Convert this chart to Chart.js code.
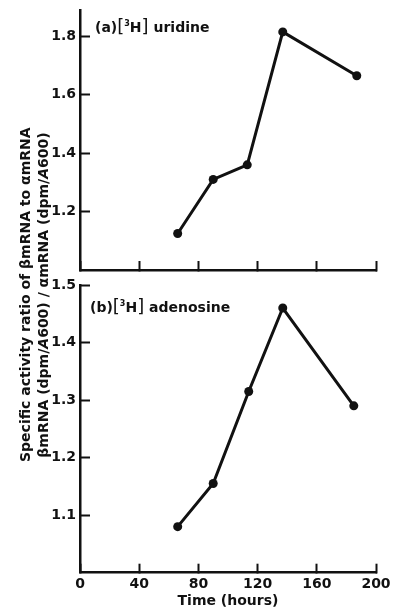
<!DOCTYPE html>
<html>
<head>
<meta charset="utf-8">
<script src="https://cdn.jsdelivr.net/npm/chart.js@4.4.1/dist/chart.umd.min.js"></script>
<style>
  body { margin: 0; background: #fff; width: 394px; height: 610px; position: relative; overflow: hidden;
         font-family: "DejaVu Sans", "Liberation Sans", sans-serif; font-weight: bold; color: #111; }
  canvas { position: absolute; left: 0; }
  #topChart { top: 0; }
  #bottomChart { top: 275px; }
  .panel { position: absolute; font-size: 14px; line-height: 18px; white-space: nowrap; }
  .panel .br { font-size: 18px; font-weight: normal; }
  .panel sup { font-size: 8px; }
  #ytitle { position: absolute; left: -133px; top: 277px; width: 334px; height: 36px;
            transform: rotate(-90deg); text-align: center; font-size: 14px; line-height: 18px;
            white-space: nowrap; }
</style>
</head>
<body>
<canvas id="topChart" width="394" height="280"></canvas>
<canvas id="bottomChart" width="394" height="335"></canvas>
<div class="panel" style="left:95px; top:15px;">(a)<span class="br">[</span><sup>3</sup>H<span class="br">]</span> uridine</div>
<div class="panel" style="left:90px; top:295px;">(b)<span class="br">[</span><sup>3</sup>H<span class="br">]</span> adenosine</div>
<div id="ytitle">Specific activity ratio of βmRNA to αmRNA<br>βmRNA (dpm/<i>A</i>600) / αmRNA (dpm/<i>A</i>600)</div>
<script>
// time points (hours)
const uridineHours = [66, 90, 113, 137, 187];
const uridineRatio = [1.125, 1.31, 1.36, 1.815, 1.665];
const adenosineHours = [66, 90, 114, 137, 185];
const adenosineRatio = [1.08, 1.155, 1.315, 1.46, 1.29];

const xTicks = [0, 40, 80, 120, 160, 200];
const uridineTicks = [1.2, 1.4, 1.6, 1.8];
const adenosineTicks = [1.1, 1.2, 1.3, 1.4, 1.5];

const ink = '#111';
const tickFont = { family: 'DejaVu Sans', weight: 'bold', size: 14 };

function toPoints(xs, ys) {
    return xs.map((x, i) => ({ x: x, y: ys[i] }));
}

function makeChart(id, points, yMin, yMax, yTicks, showX, xHeight) {
    return new Chart(document.getElementById(id), {
        type: 'line',
        data: {
            datasets: [{
                data: points,
                borderColor: ink,
                borderWidth: 3,
                backgroundColor: ink,
                pointRadius: 4.5,
                pointBorderWidth: 0,
                tension: 0
            }]
        },
        options: {
            responsive: false,
            animation: false,
            clip: false,
            layout: { padding: { top: 10, right: 18, left: 0, bottom: 0 } },
            plugins: { legend: { display: false }, tooltip: { enabled: false } },
            scales: {
                x: {
                    type: 'linear',
                    min: 0,
                    max: 200,
                    afterBuildTicks: s => { s.ticks = xTicks.map(v => ({ value: v })); },
                    afterFit: s => { s.height = xHeight; s.paddingLeft = 0; s.paddingRight = 0; },
                    border: { color: ink, width: 2.5 },
                    grid: { drawOnChartArea: false, tickLength: -9, tickWidth: 2, color: ink },
                    ticks: { display: showX, color: ink, font: tickFont, padding: 12, maxRotation: 0 },
                    title: {
                        display: showX,
                        text: 'Time (hours)',
                        color: ink,
                        font: { family: 'DejaVu Sans', weight: 'bold', size: 14 },
                        padding: { top: 0, bottom: 0 }
                    }
                },
                y: {
                    min: yMin,
                    max: yMax,
                    afterBuildTicks: s => { s.ticks = yTicks.map(v => ({ value: v })); },
                    afterFit: s => { s.width = 80; s.paddingTop = 0; s.paddingBottom = 0; },
                    border: { color: ink, width: 2.5 },
                    grid: { drawOnChartArea: false, tickLength: -10, tickWidth: 2, color: ink },
                    ticks: { color: ink, font: tickFont, padding: 14, callback: v => v.toFixed(1) }
                }
            }
        }
    });
}

makeChart('topChart', toPoints(uridineHours, uridineRatio), 1.0, 1.89, uridineTicks, false, 10);
makeChart('bottomChart', toPoints(adenosineHours, adenosineRatio), 1.0, 1.5, adenosineTicks, true, 37.3);
</script>
</body>
</html>
